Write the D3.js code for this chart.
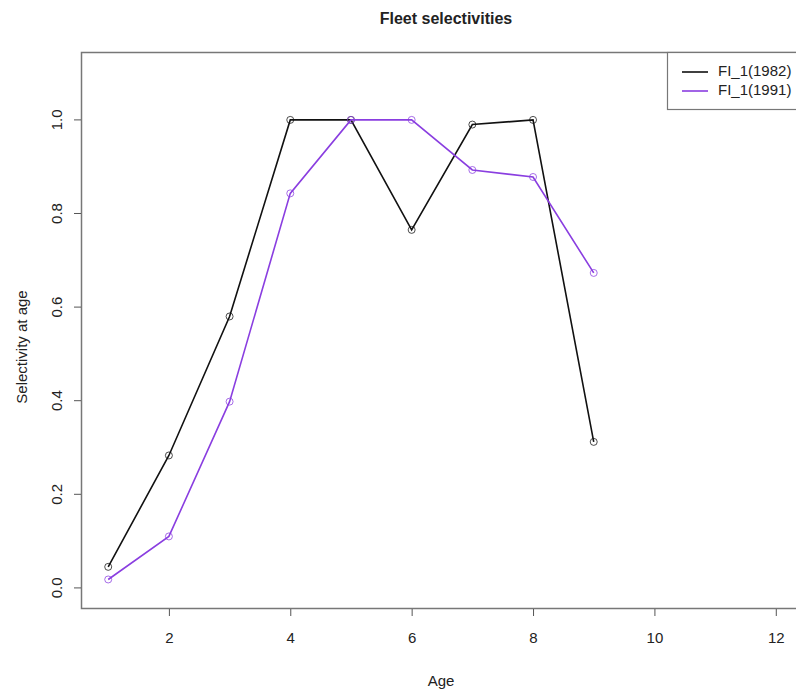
<!DOCTYPE html>
<html>
<head>
<meta charset="utf-8">
<script src="https://cdn.jsdelivr.net/npm/d3@7"></script>
<style>
body { margin: 0; background: #fff; }
svg { display: block; font-family: "Liberation Sans", Arial, sans-serif; }
</style>
</head>
<body>
<svg id="chart" width="796" height="694"></svg>
<script>
// data
var ages = [1, 2, 3, 4, 5, 6, 7, 8, 9];
var sel1982 = [0.045, 0.283, 0.580, 1.0, 1.0, 0.765, 0.990, 1.0, 0.312];
var sel1991 = [0.018, 0.110, 0.398, 0.843, 1.0, 1.0, 0.893, 0.878, 0.673];
var seriesNames = ['FI_1(1982)', 'FI_1(1991)'];
var seriesColors = ['#111111', '#8a3ee0'];
var xTicks = [2, 4, 6, 8, 10, 12];
var yTicks = [0.0, 0.2, 0.4, 0.6, 0.8, 1.0];

var svg = d3.select('#chart');

// R style 4% padding on xlim c(1,12), ylim c(0,1.1)
var x = d3.scaleLinear().domain([0.56, 12.44]).range([81.5, 802.5]);
var y = d3.scaleLinear().domain([-0.044, 1.144]).range([608.5, 52.5]);

// plot box
svg.append('rect')
    .attr('x', 81.5).attr('y', 52.5)
    .attr('width', 721).attr('height', 556)
    .attr('fill', 'none').attr('stroke', '#777').attr('stroke-width', 1.5);

// axes
var xAxis = d3.axisBottom(x).tickValues(xTicks).tickSize(7).tickPadding(16)
    .tickFormat(d3.format('d'));
var gx = svg.append('g').attr('transform', 'translate(0,609)').call(xAxis);
gx.select('.domain').remove();
gx.selectAll('line').attr('stroke', '#555');
gx.selectAll('text').attr('font-size', 15).attr('fill', '#222');

var yAxis = d3.axisLeft(y).tickValues(yTicks).tickSize(7).tickFormat(d3.format('.1f'));
var gy = svg.append('g').attr('transform', 'translate(81,0)').call(yAxis);
gy.select('.domain').remove();
gy.selectAll('line').attr('stroke', '#555');
gy.selectAll('text')
    .attr('font-size', 15).attr('fill', '#222')
    .attr('text-anchor', 'middle').attr('dy', null)
    .attr('x', 0).attr('y', 0)
    .attr('transform', function(d){ return 'translate(-23,' + y(d) + ') rotate(-90)'; })
    .attr('dominant-baseline', 'middle');
gy.selectAll('.tick').attr('transform', null);
gy.selectAll('.tick line').attr('y1', function(d){ return y(d); }).attr('y2', function(d){ return y(d); });

// titles
svg.append('text').attr('x', 446).attr('y', 24)
    .attr('text-anchor', 'middle').attr('font-size', 16).attr('font-weight', 'bold')
    .attr('fill', '#222').text('Fleet selectivities');
svg.append('text').attr('x', 441).attr('y', 686)
    .attr('text-anchor', 'middle').attr('font-size', 15).attr('fill', '#222').text('Age');
svg.append('text').attr('transform', 'translate(27,347) rotate(-90)')
    .attr('text-anchor', 'middle').attr('font-size', 15).attr('fill', '#222')
    .text('Selectivity at age');

// series
var series = [sel1982, sel1991];
var line = d3.line().x(function(d, i){ return x(ages[i]); }).y(function(d){ return y(d); });

series.forEach(function(vals, k){
    var g = svg.append('g');
    g.append('path').datum(vals)
        .attr('d', line).attr('fill', 'none')
        .attr('stroke', seriesColors[k]).attr('stroke-width', 1.6);
    g.selectAll('circle').data(vals).enter().append('circle')
        .attr('cx', function(d, i){ return x(ages[i]); })
        .attr('cy', function(d){ return y(d); })
        .attr('r', 3.5).attr('fill', 'none')
        .attr('stroke', seriesColors[k]).attr('stroke-width', 1)
        .attr('opacity', 0.75);
});

// legend
var lg = svg.append('g');
lg.append('rect').attr('x', 667.5).attr('y', 52.5).attr('width', 135).attr('height', 57)
    .attr('fill', '#fff').attr('stroke', '#777').attr('stroke-width', 1.2);
seriesNames.forEach(function(name, k){
    var ly = 72 + k * 19;
    lg.append('line').attr('x1', 682).attr('x2', 708).attr('y1', ly).attr('y2', ly)
        .attr('stroke', seriesColors[k]).attr('stroke-width', 1.6);
    lg.append('text').attr('x', 718).attr('y', ly).attr('dominant-baseline', 'middle')
        .attr('font-size', 15).attr('fill', '#222').text(name);
});
</script>
</body>
</html>
